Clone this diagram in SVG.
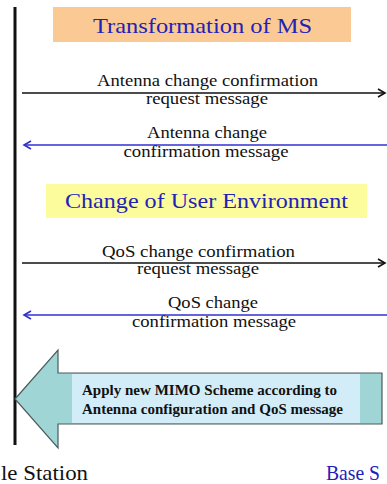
<svg xmlns="http://www.w3.org/2000/svg" width="387" height="484" viewBox="0 0 387 484">
  <style>
    .msg { font-family: "Liberation Serif", "Times New Roman", serif; font-size: 16px; fill: #111; text-anchor: middle; }
    .title { font-family: "Liberation Serif", "Times New Roman", serif; font-size: 22px; fill: #2222B8; text-anchor: middle; }
    .bold { font-family: "Liberation Serif", "Times New Roman", serif; font-size: 15px; font-weight: bold; fill: #111; }
    .lbl { font-family: "Liberation Serif", "Times New Roman", serif; font-size: 22px; }
    .req { stroke: #111; stroke-width: 1.5; fill: none; }
    .rsp { stroke: #3030D0; stroke-width: 1.6; fill: none; }
  </style>
  <defs>
    <marker id="headBlack" markerWidth="10" markerHeight="10" refX="8" refY="5" orient="auto" markerUnits="userSpaceOnUse">
      <path d="M1,1 L8,5 L1,9" fill="none" stroke="#111" stroke-width="1.6"/>
    </marker>
    <marker id="headBlue" markerWidth="10" markerHeight="10" refX="8" refY="5" orient="auto" markerUnits="userSpaceOnUse">
      <path d="M1,1 L8,5 L1,9" fill="none" stroke="#3030D0" stroke-width="1.6"/>
    </marker>
  </defs>
  <rect width="387" height="484" fill="#ffffff"/>

  <g id="mobile-station-lifeline">
    <line x1="15" y1="7" x2="15" y2="445" stroke="#111" stroke-width="3"/>
  </g>

  <g id="transformation-of-ms">
    <rect x="53" y="7" width="298" height="35" fill="#FBC994"/>
    <text class="title" x="202.5" y="33" textLength="219" lengthAdjust="spacingAndGlyphs">Transformation of MS</text>
  </g>

  <g id="change-of-user-environment">
    <rect x="46" y="184" width="321" height="34" fill="#FCFC9C"/>
    <text class="title" x="206.5" y="208" textLength="283" lengthAdjust="spacingAndGlyphs">Change of User Environment</text>
  </g>

  <g id="connectors">
    <line class="req" x1="22" y1="93" x2="385" y2="93" marker-end="url(#headBlack)"/>
    <line class="rsp" x1="387" y1="145" x2="24" y2="145" marker-end="url(#headBlue)"/>
    <line class="req" x1="22" y1="263" x2="385" y2="263" marker-end="url(#headBlack)"/>
    <line class="rsp" x1="387" y1="315" x2="24" y2="315" marker-end="url(#headBlue)"/>

    <text class="msg" x="207.5" y="86" textLength="221" lengthAdjust="spacingAndGlyphs">Antenna change confirmation</text>
    <text class="msg" x="207" y="104" textLength="122" lengthAdjust="spacingAndGlyphs">request message</text>
    <text class="msg" x="207" y="138" textLength="120" lengthAdjust="spacingAndGlyphs">Antenna change</text>
    <text class="msg" x="206" y="157" textLength="165" lengthAdjust="spacingAndGlyphs">confirmation message</text>

    <text class="msg" x="198.5" y="257" textLength="193" lengthAdjust="spacingAndGlyphs">QoS change confirmation</text>
    <text class="msg" x="198" y="274" textLength="122" lengthAdjust="spacingAndGlyphs">request message</text>
    <text class="msg" x="213" y="308" textLength="90" lengthAdjust="spacingAndGlyphs">QoS change</text>
    <text class="msg" x="214" y="327" textLength="164" lengthAdjust="spacingAndGlyphs">confirmation message</text>
  </g>

  <g id="apply-mimo-arrow">
    <path d="M15,399 L58,350 L58,373 L382,373 L382,424 L58,424 L58,448 Z" fill="#A0D5D5" stroke="#4A5A5A" stroke-width="1.2"/>
    <rect x="72" y="374" width="288" height="49" fill="#D2EDF8"/>
    <text class="bold" x="82" y="395" textLength="255" lengthAdjust="spacingAndGlyphs">Apply new MIMO Scheme according to</text>
    <text class="bold" x="82" y="414" textLength="261" lengthAdjust="spacingAndGlyphs">Antenna configuration and QoS message</text>
  </g>

  <g id="mobile-station-label">
    <text class="lbl" x="1" y="480" fill="#111" textLength="87" lengthAdjust="spacingAndGlyphs">le Station</text>
  </g>
  <g id="base-station-label">
    <text class="lbl" x="326" y="480" fill="#2222B8" textLength="54" lengthAdjust="spacingAndGlyphs">Base S</text>
  </g>
</svg>
